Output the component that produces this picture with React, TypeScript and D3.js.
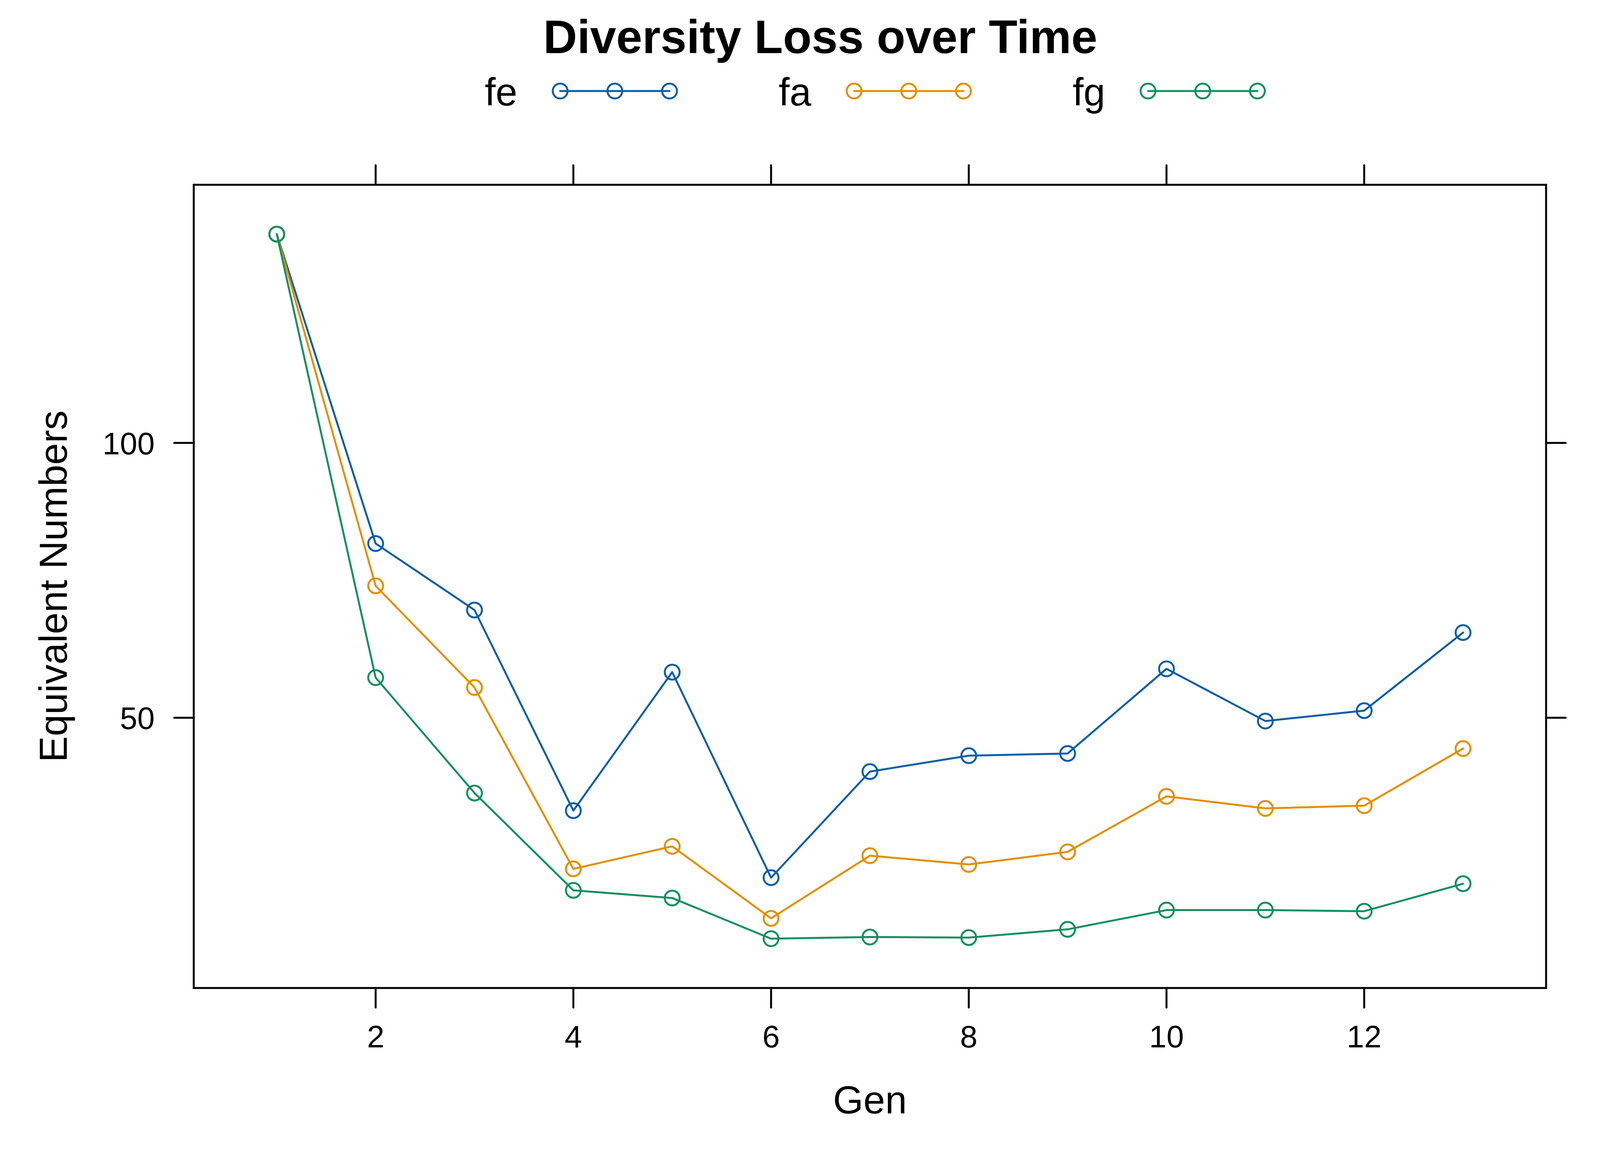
import React from 'react';
import { useRef, useEffect } from 'react';
import * as d3 from 'd3';

// generations on the x axis
const gens = [1, 2, 3, 4, 5, 6, 7, 8, 9, 10, 11, 12, 13];

// equivalent numbers per series
const fe = [138, 81.7, 69.6, 33.1, 58.3, 20.9, 40.2, 43.1, 43.5, 58.9, 49.4, 51.3, 65.5];
const fa = [138, 74.0, 55.5, 22.5, 26.6, 13.5, 24.9, 23.3, 25.6, 35.7, 33.5, 34.0, 44.4];
const fg = [138, 57.3, 36.3, 18.6, 17.2, 9.8, 10.1, 10.0, 11.5, 15.0, 15.0, 14.8, 19.8];

const seriesNames = ['fe', 'fa', 'fg'];
const seriesColors = ['#0B5EA6', '#E28F00', '#12905E'];

const xTicks = [2, 4, 6, 8, 10, 12];
const yTicks = [50, 100];

const titleText = 'Diversity Loss over Time';
const xLabel = 'Gen';
const yLabel = 'Equivalent Numbers';

export default function App() {
  const svgRef = useRef<SVGSVGElement>(null);

  useEffect(() => {
    const w = 4200;
    const h = 3000;
    const font = '"Liberation Sans", Arial, Helvetica, sans-serif';
    const lw = 5;
    const tickLen = 50;

    // panel box
    const left = 496;
    const right = 3958;
    const top = 473;
    const bottom = 2529;

    const svg = d3
      .select(svgRef.current)
      .attr('width', w)
      .attr('height', h)
      .style('display', 'block')
      .style('position', 'absolute')
      .style('left', '0px')
      .style('top', '0px')
      .style('background', 'white');
    svg.selectAll('*').remove();

    const data = [fe, fa, fg];

    // lattice style padding of 7% on both sides
    const xExt = d3.extent(gens) as [number, number];
    const xPad = (xExt[1] - xExt[0]) * 0.07;
    const allY = data.flat();
    const yMin = d3.min(allY) as number;
    const yMax = d3.max(allY) as number;
    const yPad = (yMax - yMin) * 0.07;

    const x = d3.scaleLinear().domain([xExt[0] - xPad, xExt[1] + xPad]).range([left, right]);
    const y = d3.scaleLinear().domain([yMin - yPad, yMax + yPad]).range([bottom, top]);

    // title
    svg
      .append('text')
      .attr('x', 2100)
      .attr('y', 136)
      .attr('text-anchor', 'middle')
      .style('font-family', font)
      .style('font-weight', 'bold')
      .style('font-size', '120px')
      .text(titleText);

    // legend
    const legend = svg.append('g');
    seriesNames.forEach((name, i) => {
      const gx = 1241 + i * 752.5;
      const g = legend.append('g').attr('transform', `translate(${gx},0)`);
      g.append('text')
        .attr('x', 0)
        .attr('y', 270)
        .style('font-family', font)
        .style('font-size', '100px')
        .text(name);
      g.append('line')
        .attr('x1', 193)
        .attr('x2', 473)
        .attr('y1', 233)
        .attr('y2', 233)
        .attr('stroke', seriesColors[i])
        .attr('stroke-width', lw)
        .attr('stroke-linecap', 'round');
      [193, 333, 473].forEach((cx) => {
        g.append('circle')
          .attr('cx', cx)
          .attr('cy', 233)
          .attr('r', 19)
          .attr('fill', 'none')
          .attr('stroke', seriesColors[i])
          .attr('stroke-width', lw);
      });
    });

    // ticks, outward on all four sides
    const ticks = svg.append('g').attr('stroke', 'black').attr('stroke-width', lw).attr('stroke-linecap', 'round');
    xTicks.forEach((t) => {
      ticks.append('line').attr('x1', x(t)).attr('x2', x(t)).attr('y1', bottom).attr('y2', bottom + tickLen);
      ticks.append('line').attr('x1', x(t)).attr('x2', x(t)).attr('y1', top).attr('y2', top - tickLen);
    });
    yTicks.forEach((t) => {
      ticks.append('line').attr('x1', left).attr('x2', left - tickLen).attr('y1', y(t)).attr('y2', y(t));
      ticks.append('line').attr('x1', right).attr('x2', right + tickLen).attr('y1', y(t)).attr('y2', y(t));
    });

    // tick labels
    svg
      .append('g')
      .selectAll('text')
      .data(xTicks)
      .join('text')
      .attr('x', (d) => x(d))
      .attr('y', 2681)
      .attr('text-anchor', 'middle')
      .style('font-family', font)
      .style('font-size', '80px')
      .text((d) => d);

    svg
      .append('g')
      .selectAll('text')
      .data(yTicks)
      .join('text')
      .attr('x', left - tickLen - 50)
      .attr('y', (d) => y(d))
      .attr('dy', '0.36em')
      .attr('text-anchor', 'end')
      .style('font-family', font)
      .style('font-size', '80px')
      .text((d) => d);

    // axis labels
    svg
      .append('text')
      .attr('x', (left + right) / 2)
      .attr('y', 2850)
      .attr('text-anchor', 'middle')
      .style('font-family', font)
      .style('font-size', '100px')
      .text(xLabel);

    svg
      .append('text')
      .attr('transform', `translate(171, ${(top + bottom) / 2}) rotate(-90)`)
      .attr('text-anchor', 'middle')
      .style('font-family', font)
      .style('font-size', '100px')
      .text(yLabel);

    // lines and points
    const line = d3
      .line<number>()
      .x((d, i) => x(gens[i]))
      .y((d) => y(d));

    data.forEach((vals, i) => {
      const g = svg.append('g');
      g.append('path')
        .attr('d', line(vals))
        .attr('fill', 'none')
        .attr('stroke', seriesColors[i])
        .attr('stroke-width', lw)
        .attr('stroke-linejoin', 'round')
        .attr('stroke-linecap', 'round');
      g.selectAll('circle')
        .data(vals)
        .join('circle')
        .attr('cx', (d, j) => x(gens[j]))
        .attr('cy', (d) => y(d))
        .attr('r', 19)
        .attr('fill', 'none')
        .attr('stroke', seriesColors[i])
        .attr('stroke-width', lw);
    });

    // panel box
    svg
      .append('rect')
      .attr('x', left)
      .attr('y', top)
      .attr('width', right - left)
      .attr('height', bottom - top)
      .attr('fill', 'none')
      .attr('stroke', 'black')
      .attr('stroke-width', lw);
  }, []);

  return <svg ref={svgRef}></svg>;
}
